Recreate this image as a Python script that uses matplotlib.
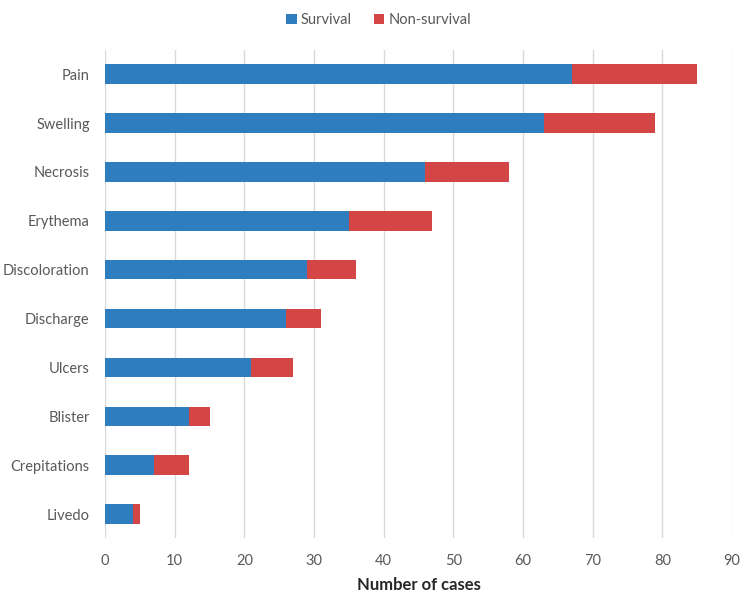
import matplotlib
matplotlib.use("Agg")
import matplotlib.pyplot as plt
import numpy as np

categories = ["Pain", "Swelling", "Necrosis", "Erythema", "Discoloration",
              "Discharge", "Ulcers", "Blister", "Crepitations", "Livedo"]
survival = [67, 63, 46, 35, 29, 26, 21, 12, 7, 4]
non_survival = [18, 16, 12, 12, 7, 5, 6, 3, 5, 1]
xticks = [0, 10, 20, 30, 40, 50, 60, 70, 80, 90]

plt.rcParams['font.family'] = ['Lato', 'DejaVu Sans']

fig = plt.figure(figsize=(7.5, 6.07), dpi=100)
ax = fig.add_axes([0.14, 0.1129, 0.836, 0.805])

y = np.arange(len(categories))
blue = "#2E7DBF"
red = "#D44545"
ax.barh(y, survival, height=0.4, color=blue, label="Survival", zorder=3)
ax.barh(y, non_survival, left=survival, height=0.4, color=red, label="Non-survival", zorder=3)

ax.set_ylim(len(categories) - 0.5, -0.5)
ax.set_yticks(y)
ax.set_yticklabels(categories)
ax.set_xlim(0, 90)
ax.set_xticks(xticks)
ax.grid(axis='x', color="#D9D9D9", linewidth=1, zorder=0)
for s in ax.spines.values():
    s.set_visible(False)
ax.tick_params(axis='both', length=0, colors="#595959", labelsize=10.5)
ax.tick_params(axis='y', pad=11)
ax.tick_params(axis='x', pad=11)
ax.set_xlabel("Number of cases", fontsize=12, fontweight='bold', color="#262626", labelpad=7)

fig.legend(loc='upper center', bbox_to_anchor=(0.505, 1.0), ncol=2, frameon=False,
           fontsize=10.5, handlelength=0.7, handleheight=0.7, handletextpad=0.3,
           columnspacing=1.5, labelcolor="#595959")

fig.savefig("out.png", dpi=100)
